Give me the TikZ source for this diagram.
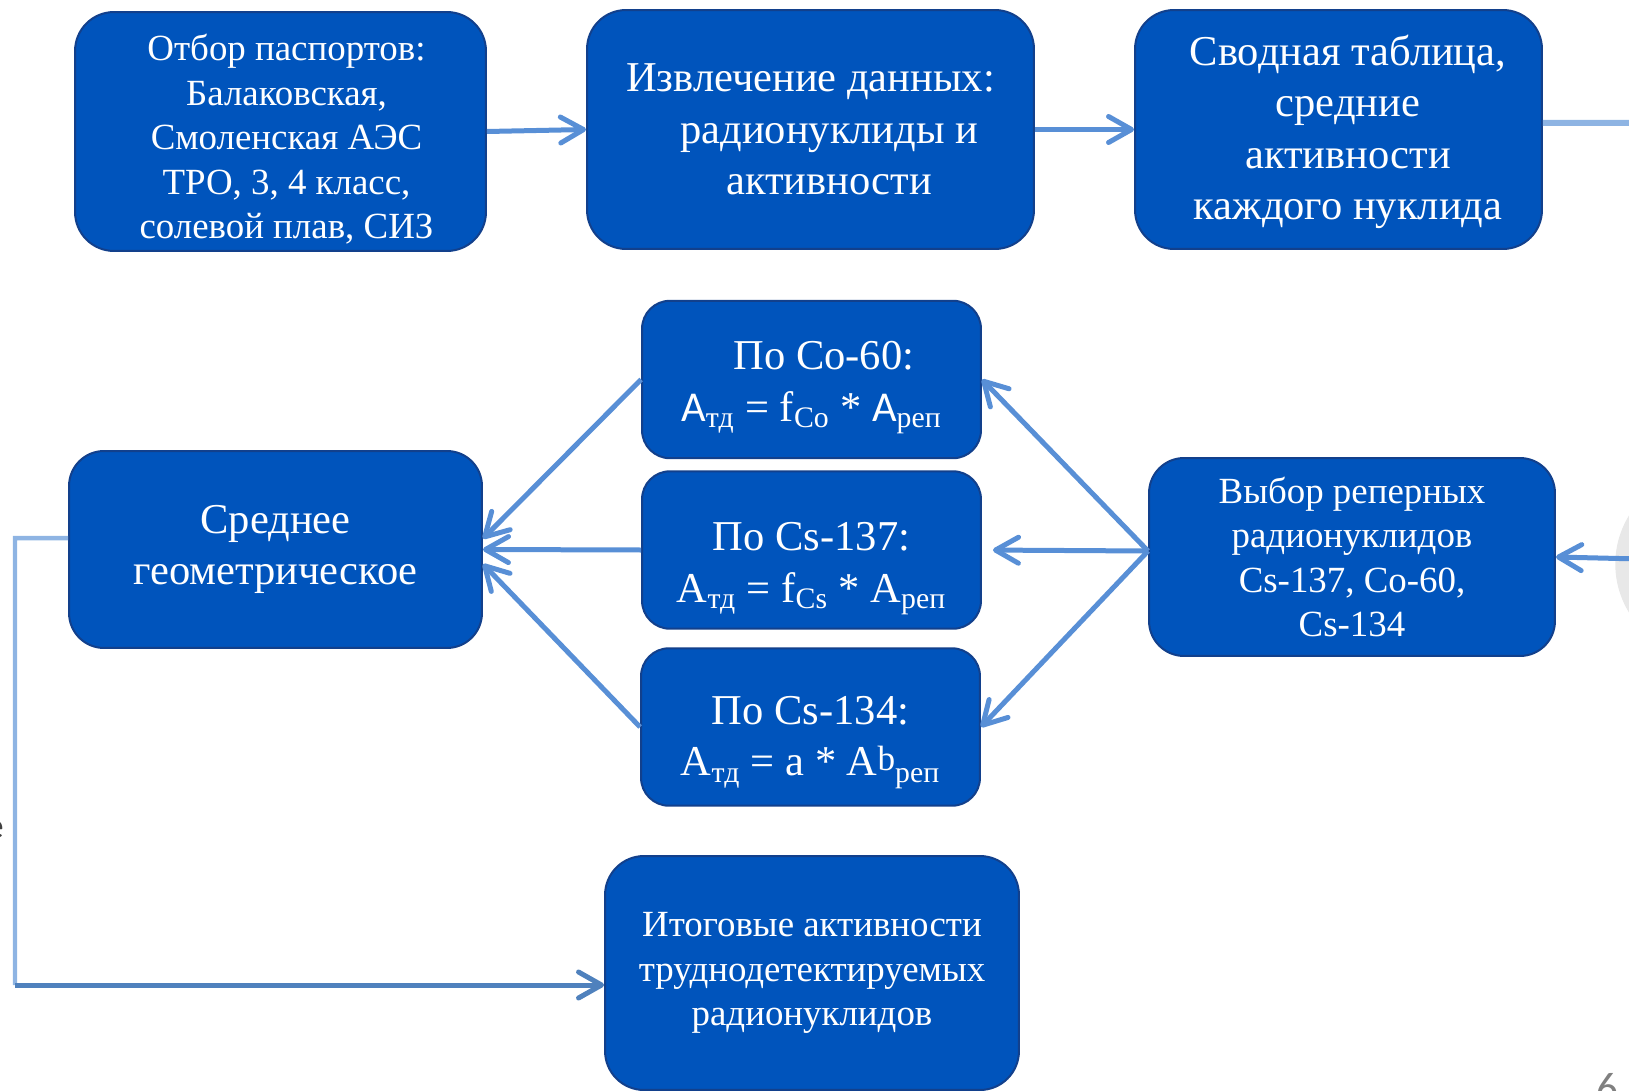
\documentclass[tikz,border=0pt]{standalone}
\usepackage{fontspec}
\setmainfont{Liberation Serif}
\newfontfamily\calibri{Carlito}
\usetikzlibrary{arrows.meta}
\definecolor{boxblue}{RGB}{0,84,188}
\definecolor{boxedge}{RGB}{18,64,140}
\definecolor{arrowblue}{RGB}{88,143,214}
\definecolor{paleblue}{RGB}{142,180,227}
\definecolor{darkline}{RGB}{79,129,189}
\newcommand{\bigfont}{\fontsize{24.2}{29.3}\selectfont}
\newcommand{\smallfont}{\fontsize{21}{25.4}\selectfont}
\newcommand{\lift}[1]{\rule{0pt}{#1}}

\begin{document}
\begin{tikzpicture}[x=0.02cm,y=-0.02cm]
        \tikzstyle{block} = [rectangle, rounded corners=0.78cm, draw=boxedge, line width=0.04cm, fill=boxblue, text=white, align=center, inner sep=0pt]
        \tikzstyle{formula} = [block, rounded corners=0.56cm, minimum width=6.78cm, minimum height=3.15cm, font=\bigfont]
        \tikzstyle{line} = [-{Straight Barb[length=0.46cm,width=0.52cm,round]}, draw=arrowblue, line width=0.1cm]
        \tikzstyle{noarrow} = [draw=paleblue, line width=0.09cm]
        \useasboundingbox (0,0) rectangle (1629,1091);
        \clip (0,0) rectangle (1629,1091);
        % bits of the slide behind the scheme
        \fill[gray!18] (1708,564) circle (1.855cm);
        \node[anchor=east, inner sep=0pt, text=black!75, font=\calibri\fontsize{21}{25}\selectfont] (edgeletter) at (4,830) {е};
        \node[anchor=north west, inner sep=0pt, text=black!50, font=\calibri\fontsize{24.5}{29}\selectfont] (pagenum) at (1596,1073) {6};
        \node[block, minimum width=8.22cm, minimum height=4.78cm, font=\smallfont] (passports) at (280.5,131.5) {\lift{0.84cm}\hspace*{0.24cm}Отбор паспортов:\\ \hspace*{0.24cm}Балаковская,\\ \hspace*{0.24cm}Смоленская АЭС\\ \hspace*{0.24cm}ТРО, 3, 4 класс,\\ \hspace*{0.24cm}солевой плав, СИЗ};
        \node[block, minimum width=8.94cm, minimum height=4.78cm, font=\bigfont] (extract) at (810.5,129.5) {Извлечение данных:\\ \hspace*{0.75cm}радионуклиды и\\ \hspace*{0.75cm}активности};
        \node[block, minimum width=8.14cm, minimum height=4.78cm, font=\bigfont] (summary) at (1338.5,129.5) {\lift{0.71cm}\hspace*{0.38cm}Сводная таблица,\\ \hspace*{0.38cm}средние\\ \hspace*{0.38cm}активности\\ \hspace*{0.38cm}каждого нуклида};
        \node[formula] (cobalt) at (811.5,379.5) {\lift{0.89cm}\hspace*{0.5cm}По Co-60:\\ {\calibri A}\textsubscript{тд} = f\textsubscript{Co} * {\calibri A}\textsubscript{реп}};
        \node[formula] (cesium137) at (811.5,550) {\lift{1.31cm}По Cs-137:\\ A\textsubscript{тд} = f\textsubscript{Cs} * A\textsubscript{реп}};
        \node[formula] (cesium134) at (810.5,727) {\lift{1.18cm}По Cs-134:\\ A\textsubscript{тд} = a * A\raisebox{0.12em}{\fontsize{20}{24}\selectfont b}\textsubscript{реп}};
        \node[block, rounded corners=0.7cm, minimum width=8.26cm, minimum height=3.94cm, font=\bigfont] (geomean) at (275.5,549.5) {Среднее\\ геометрическое};
        \node[block, rounded corners=0.7cm, minimum width=8.12cm, minimum height=3.96cm, font=\smallfont] (reference) at (1352,557) {Выбор реперных\\ радионуклидов\\ Cs-137, Co-60,\\ Cs-134};
        \node[block, minimum width=8.28cm, minimum height=4.68cm, font=\smallfont] (result) at (812,973) {Итоговые активности\\ труднодетектируемых\\ радионуклидов};
        \coordinate (offright) at (1640,123);
        \coordinate (incoming) at (1640,559);
        \coordinate (fork) at ([yshift=0.12cm]reference.west);
        \coordinate (loopup) at (15,538);
        \coordinate (loopdown) at (15,985);
        \draw[line] (passports.east) -- (extract.west);
        \draw[line] (extract.east) -- (summary.west);
        \draw[noarrow, line width=0.12cm] ([yshift=0.13cm]summary.east) -- (offright);
        \draw[line] (incoming) -- (reference.east);
        \draw[line] (fork) -- (cobalt.east);
        \draw[line, shorten >=0.22cm] (fork) -- (cesium137.east);
        \draw[line] (fork) -- (cesium134.east);
        \draw[line] (cobalt.west) -- (geomean.3);
        \draw[line] (cesium137.west) -- (geomean.east);
        \draw[line] (cesium134.west) -- (geomean.-4);
        \draw[noarrow] ([yshift=0.23cm]geomean.west) -- (loopup) -- (loopdown);
        \draw[line, draw=darkline] (loopdown) -- (result.west |- loopdown);
        %\draw[line] (geomean.south) to[bend right] (result.west);
\end{tikzpicture}
\end{document}
